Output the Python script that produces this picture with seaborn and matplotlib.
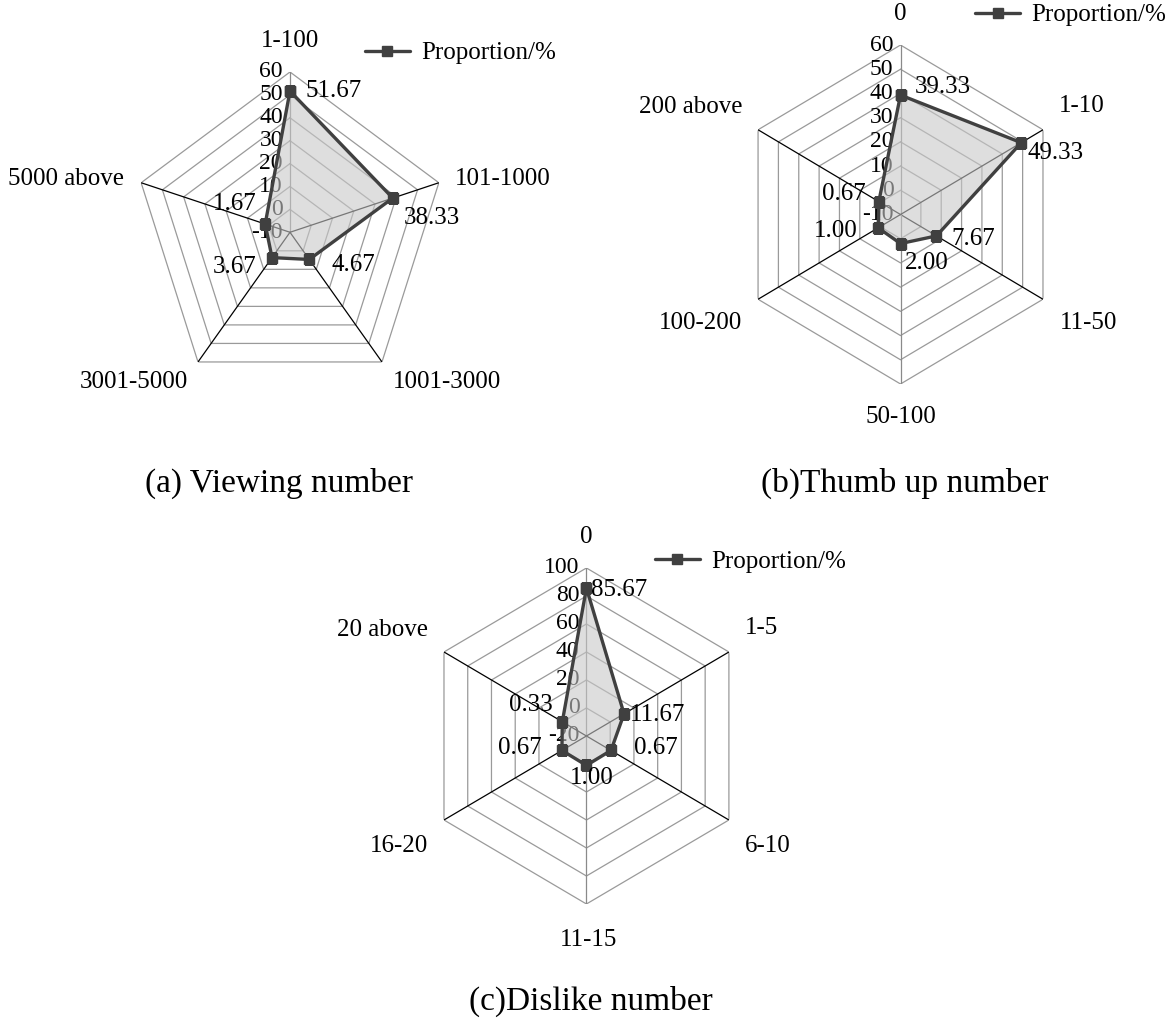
import numpy as np
import matplotlib
matplotlib.use("Agg")
import matplotlib.pyplot as plt
import seaborn as sns

sns.set_style("white")
plt.rcParams["font.family"] = ["Liberation Serif", "DejaVu Serif"]
plt.rcParams["text.color"] = "black"

# Data
viewing_cats = ["1-100", "101-1000", "1001-3000", "3001-5000", "5000 above"]
viewing_vals = [51.67, 38.33, 4.67, 3.67, 1.67]
viewing_ticks = [-10, 0, 10, 20, 30, 40, 50, 60]

thumb_cats = ["0", "1-10", "11-50", "50-100", "100-200", "200 above"]
thumb_vals = [39.33, 49.33, 7.67, 2.00, 1.00, 0.67]
thumb_ticks = [-10, 0, 10, 20, 30, 40, 50, 60]

dislike_cats = ["0", "1-5", "6-10", "11-15", "16-20", "20 above"]
dislike_vals = [85.67, 11.67, 0.67, 1.00, 0.67, 0.33]
dislike_ticks = [-20, 0, 20, 40, 60, 80, 100]

LINE = "#404040"
FS = 18


def radar(fig, rect, cats, vals, ticks, cat_offsets, val_offsets, legend_xy, caption, caption_xy):
    ax = fig.add_axes(rect, projection="polar")
    ax.set_theta_zero_location("N")
    ax.set_theta_direction(-1)
    ax.set_aspect("auto")
    ax.grid(False)
    ax.spines["polar"].set_visible(False)
    ax.patch.set_visible(False)
    ax.set_xticks([])
    ax.set_yticks([])

    n = len(cats)
    angles = np.linspace(0, 2 * np.pi, n, endpoint=False)
    closed = np.append(angles, angles[0])
    lo, hi = ticks[0], ticks[-1]
    ax.set_ylim(lo, hi)

    # polygon gridlines
    for t in ticks[1:]:
        ax.plot(closed, [t] * (n + 1), color="#9a9a9a", lw=0.9, zorder=1)
    # spokes
    for a in angles:
        c = "#8a8a8a" if np.isclose(np.cos(a), 1) or np.isclose(np.cos(a), -1) else "black"
        ax.plot([a, a], [lo, hi], color=c, lw=0.9, zorder=1)

    # value axis labels
    for t in ticks:
        ax.annotate(str(t), xy=(0, t), xytext=(-7, 0), textcoords="offset pixels",
                    ha="right", va="center", fontsize=17, color="black", zorder=2)

    # category labels
    for a, c, (dx, dy, ha) in zip(angles, cats, cat_offsets):
        ax.annotate(c, xy=(a, hi), xytext=(dx, dy), textcoords="offset pixels",
                    ha=ha, va="center", fontsize=FS, color="black", annotation_clip=False)

    v = np.append(vals, vals[0])
    ax.fill(closed, v, color="#c8c8c8", alpha=0.6, zorder=3, lw=0)
    ax.plot(closed, v, color=LINE, lw=2.4, marker="s", markersize=7,
            zorder=4, label="Proportion/%")

    for a, val, (dx, dy, ha) in zip(angles, vals, val_offsets):
        ax.annotate(f"{val:.2f}", xy=(a, val), xytext=(dx, dy), textcoords="offset pixels",
                    ha=ha, va="center", fontsize=FS, color="black", zorder=5,
                    annotation_clip=False)

    leg = ax.legend(loc="center left", bbox_to_anchor=legend_xy, bbox_transform=fig.transFigure,
                    frameon=False, fontsize=FS, handlelength=1.8, handletextpad=0.45,
                    borderpad=0, borderaxespad=0, labelcolor="black")
    fig.text(caption_xy[0], caption_xy[1], caption, ha="center", va="center",
             fontsize=24, color="black")
    return ax


fig = plt.figure(figsize=(11.75, 10.21), dpi=100)

radar(fig, [0.1136, 0.6155, 0.2664, 0.3140], viewing_cats, viewing_vals, viewing_ticks,
      [(0, 31, "center"), (16, 4, "left"), (11, -20, "left"), (-10, -20, "right"), (-17, 4, "right")],
      [(16, 0, "left"), (11, -20, "left"), (22, -6, "left"), (-16, -9, "right"), (-9, 20, "right")],
      (0.3106, 0.948), "(a) Viewing number", (279 / 1175, 1 - 483 / 1021))

radar(fig, [0.6264, 0.6239, 0.2800, 0.3320], thumb_cats, thumb_vals, thumb_ticks,
      [(0, 31, "center"), (16, 24, "left"), (17, -24, "left"), (0, -33, "center"),
       (-16, -24, "right"), (-16, 23, "right")],
      [(14, 8, "left"), (6, -10, "left"), (15, -3, "left"), (4, -19, "left"),
       (-21, -3, "right"), (-13, 8, "right")],
      (0.8298, 0.9853), "(b)Thumb up number", (905 / 1175, 1 - 483 / 1021))

radar(fig, [0.3591, 0.1146, 0.2800, 0.3291], dislike_cats, dislike_vals, dislike_ticks,
      [(0, 31, "center"), (16, 24, "left"), (16, -26, "left"), (2, -36, "center"),
       (-16, -26, "right"), (-16, 22, "right")],
      [(5, -2, "left"), (6, -1, "left"), (23, 2, "left"), (5, -13, "center"),
       (-20, 2, "right"), (-10, 17, "right")],
      (0.5574, 0.4496), "(c)Dislike number", (591 / 1175, 1 - 1001 / 1021))

fig.savefig("out.png", dpi=100)
